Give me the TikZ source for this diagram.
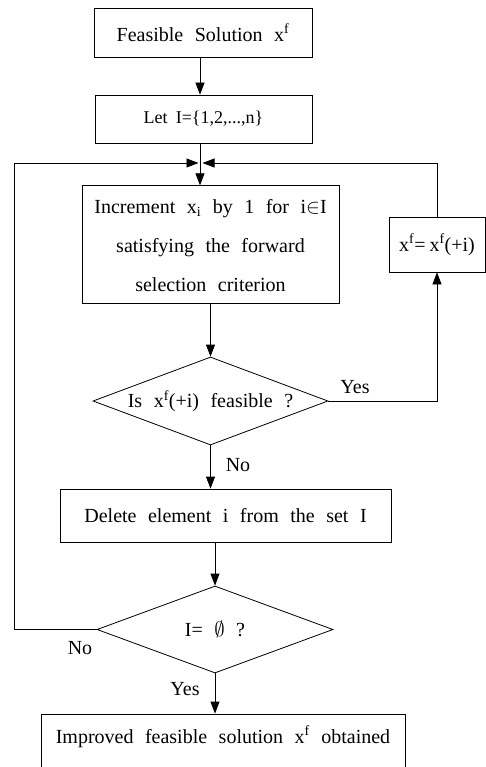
\documentclass[tikz,border=0pt]{standalone}
\usepackage{fontspec}
\setmainfont[WordSpace=2.3]{Liberation Serif}
\usetikzlibrary{shapes.geometric,arrows.meta}
\tikzset{
  box/.style={draw, rectangle, inner sep=0pt, align=center, line width=0.8pt},
  dec/.style={draw, diamond, inner sep=0pt, line width=0.8pt},
  conn/.style={line width=0.8pt},
  arr/.style={conn, -{Triangle[length=12pt,width=9pt]}},
  lbl/.style={inner sep=0pt}
}
\begin{document}
\begin{tikzpicture}[x=1pt,y=-1pt,font=\fontsize{20}{39.5}\selectfont]
\useasboundingbox (0,0) rectangle (486,767);
\clip (0,0) rectangle (486,767);
% nodes
\node[box, minimum width=218, minimum height=49] (b1) at (203,32.5) {Feasible Solution x\textsuperscript{f}};
\node[box, minimum width=217, minimum height=48] (b2) at (203.5,119) {\fontsize{18}{22}\selectfont Let\hspace{0.45em}I=\{1,2,...,n\}};
\node[box, minimum width=257, minimum height=117] (b3) at (210.5,244.5)
  {\raisebox{5pt}{\begin{tabular}{@{}c@{}}Increment x\textsubscript{i} by 1 for i$\in$I\\[-0.5pt] satisfying the forward\\[-0.5pt] selection criterion\end{tabular}}};
\node[box, minimum width=96, minimum height=55] (b4) at (437,244.5) {x\textsuperscript{f}=\hspace{0.2em}x\textsuperscript{f}(+i)};
\node[dec, aspect=2.67, minimum width=235, minimum height=88] (d1) at (210.5,401) {Is x\textsuperscript{f}(+i) feasible ?};
\node[box, minimum width=331, minimum height=53] (b5) at (225.5,515.5) {Delete element i from the set I};
\node[dec, aspect=2.7, minimum width=236, minimum height=87] (d2) at (215,629.5) {I= $\emptyset$ ?};
\node[box, minimum width=364, minimum height=58, text height=14pt, text depth=14pt] (b6) at (223,743)
  {Improved feasible solution x\textsuperscript{f} obtained};
% labels
\node[lbl] (yes1) at (355,387) {Yes};
\node[lbl] (no1) at (238,465) {No};
\node[lbl] (no2) at (80,648) {No};
\node[lbl] (yes2) at (185,689) {Yes};
% junction
\coordinate (J) at (200,163);
\coordinate (L) at (14,163);
% connectors
\draw[arr] (b1.south -| J) -- (b2.north -| J);
\draw[arr] (b2.south -| J) -- (b3.north -| J);
\draw[arr] (b3.south -| d1.north) -- (d1.north);
\draw[arr] (d1.south) -- (d1.south |- b5.north);
\draw[arr] (b5.south -| d2.north) -- (d2.north);
\draw[arr] (d2.south) -- (d2.south |- b6.north);
\draw[arr] (d1.east) -| (b4.south);
\draw[arr] (b4.north) |- ([xshift=2.5pt]J);
\draw[arr] (d2.west) -| (L) -- ([xshift=-1.5pt]J);
\end{tikzpicture}
\end{document}
